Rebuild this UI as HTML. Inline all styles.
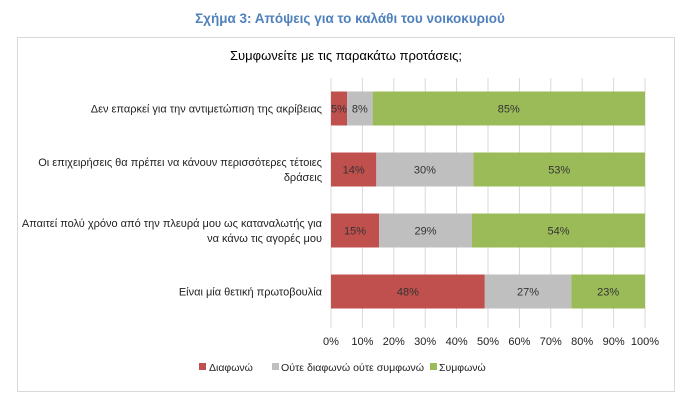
<!DOCTYPE html>
<html><head><meta charset="utf-8"><style>
body{margin:0;background:#fff;font-family:"Liberation Sans",sans-serif;}
</style></head><body>
<svg width="700" height="407" xmlns="http://www.w3.org/2000/svg" font-family="'Liberation Sans',sans-serif">
<text x="350" y="23" text-anchor="middle" font-size="13.5" font-weight="bold" fill="#4f81bd">Σχήμα 3: Απόψεις για το καλάθι του νοικοκυριού</text>
<rect x="17.5" y="37.5" width="657" height="354" fill="#fff" stroke="#d9d9d9"/>
<text x="346" y="60" text-anchor="middle" font-size="13" fill="#000">Συμφωνείτε με τις παρακάτω προτάσεις;</text>
<g id="grid"></g><g id="bars"></g><g id="labels"></g><g id="ticks"></g>
<g font-size="10.5" fill="#222">
<rect x="199" y="363" width="7" height="7" fill="#c0504d"/>
<text x="209" y="371">Διαφωνώ</text>
<rect x="272" y="363" width="7" height="7" fill="#bfbfbf"/>
<text x="281" y="371" textLength="143" lengthAdjust="spacingAndGlyphs">Ούτε διαφωνώ ούτε συμφωνώ</text>
<rect x="430" y="363" width="7" height="7" fill="#9bbb59"/>
<text x="439" y="371">Συμφωνώ</text>
</g>
</svg>
<script>
const categories=[["Δεν επαρκεί για την αντιμετώπιση της ακρίβειας"],["Οι επιχειρήσεις θα πρέπει να κάνουν περισσότερες τέτοιες","δράσεις"],["Απαιτεί πολύ χρόνο από την πλευρά μου ως καταναλωτής για","να κάνω τις αγορές μου"],["Είναι μία θετική πρωτοβουλία"]];
const disagree=[5,14,15,48];
const neutral=[8,30,29,27];
const agree=[85,53,54,23];
const tickLabels=["0%","10%","20%","30%","40%","50%","60%","70%","80%","90%","100%"];
const ns="http://www.w3.org/2000/svg";
const x0=331,x1=645,yTop=78,yBot=322;
const xs=p=>x0+(x1-x0)*p/100;
const bandH=(yBot-yTop)/categories.length;
const yc=i=>yTop+bandH*(i+0.5);
function mk(tag,attrs,parent){const e=document.createElementNS(ns,tag);for(const k in attrs)e.setAttribute(k,attrs[k]);document.getElementById(parent).appendChild(e);return e;}
tickLabels.forEach((t,i)=>{
  const x=xs(i*10);
  const l=mk("line",{x1:x,x2:x,y1:yTop,y2:yBot+6,stroke:"#d9d9d9"},"grid");
  
  
  const tx=mk("text",{x:x,y:345,"text-anchor":"middle","font-size":"11",fill:"#222"},"ticks");
  tx.textContent=t;
  
  
});
const series=[[disagree,"#c0504d","disagree"],[neutral,"#bfbfbf","neutral"],[agree,"#9bbb59","agree"]];
categories.forEach((c,i)=>{
  const tot=disagree[i]+neutral[i]+agree[i];
  let acc=0;const h=34,y=yc(i)-h/2;
  series.forEach(([arr,col,nm])=>{
    const p=arr[i]/tot*100;
    const r=mk("rect",{x:xs(acc),y:y,width:xs(acc+p)-xs(acc),height:h,fill:col},"bars");
    
    
    const t=mk("text",{x:(xs(acc)+xs(acc+p))/2,y:yc(i)+4,"text-anchor":"middle","font-size":"11",fill:"#333"},"bars");
    t.textContent=arr[i]+"%";
    
    
    acc+=p;
  });
  const n=c.length;
  c.forEach((line,j)=>{
    const t=mk("text",{x:322,y:yc(i)+4+(j-(n-1)/2)*15,"text-anchor":"end","font-size":"11",fill:"#222"},"labels");
    t.textContent=line;
    
    
  });
});
</script>
</body></html>
